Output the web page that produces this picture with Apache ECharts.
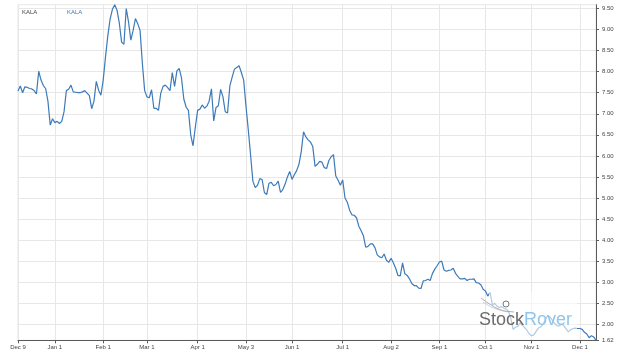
<!DOCTYPE html>
<html><head><meta charset="utf-8">
<script src="https://cdn.jsdelivr.net/npm/echarts@6/dist/echarts.min.js"></script>
<style>html,body{margin:0;padding:0;background:#fff}#c{width:624px;height:356px}</style>
</head><body><div id="c"></div>
<script>
const ticker = 'KALA';
// daily closes, Dec 9 -> Dec 8 (one per trading day)
const prices = [
7.54,7.66,7.50,7.64,7.63,7.60,7.59,7.55,7.47,8.01,
7.80,7.67,7.60,7.30,6.73,6.88,6.79,6.82,6.77,6.82,
7.05,7.55,7.58,7.68,7.52,7.51,7.50,7.50,7.52,7.55,
7.49,7.43,7.12,7.30,7.77,7.56,7.44,7.80,8.35,8.85,
9.25,9.48,9.59,9.46,9.15,8.70,8.65,9.50,9.18,8.75,
8.98,9.26,9.14,8.98,8.20,7.55,7.40,7.38,7.57,7.13,
7.13,7.08,7.49,7.65,7.68,7.62,7.55,7.98,7.65,8.02,
8.08,7.85,7.35,7.16,7.08,6.50,6.24,6.68,7.08,7.11,
7.21,7.13,7.18,7.30,7.59,6.83,7.15,7.19,7.58,7.40,
7.05,7.02,7.66,7.87,8.06,8.10,8.14,7.98,7.80,7.18,
6.62,6.02,5.40,5.25,5.30,5.46,5.44,5.13,5.08,5.35,
5.37,5.29,5.32,5.40,5.13,5.20,5.33,5.50,5.63,5.44,
5.55,5.65,5.80,6.10,6.57,6.45,6.38,6.33,6.22,5.75,
5.80,5.87,5.85,5.72,5.70,5.89,5.98,6.03,5.52,5.42,
5.30,5.43,5.00,4.90,4.71,4.60,4.59,4.53,4.33,4.22,
4.10,3.83,3.85,3.91,3.91,3.82,3.65,3.60,3.58,3.67,
3.52,3.47,3.57,3.46,3.33,3.16,3.15,3.46,3.20,3.16,
3.08,2.97,2.92,2.92,2.86,2.85,3.03,3.04,3.07,3.04,
3.21,3.31,3.39,3.48,3.50,3.29,3.26,3.28,3.29,3.33,
3.21,3.14,3.08,3.08,3.09,3.04,3.07,3.07,3.08,2.99,
2.98,2.94,2.83,2.79,2.67,2.76,2.46,2.50,2.43,2.40,
2.42,2.38,2.36,2.31,2.15,1.88,1.93,1.95,2.03,1.98,
1.92,1.86,1.77,1.73,1.75,1.83,1.91,1.94,2.00,2.11,
2.21,2.18,2.10,2.02,1.97,1.96,2.00,1.97,1.89,1.82,
1.87,1.90,1.91,1.90,1.90,1.88,1.81,1.77,1.68,1.73,
1.70,1.62
];
const tickIndex = [0,16,37,56,78,99,119,141,162,183,203,223,244];
const tickText = ['Dec 9','Jan 1','Feb 1','Mar 1','Apr 1','May 3','Jun 1','Jul 1','Aug 2','Sep 1','Oct 1','Nov 1','Dec 1'];
const yTicks = [1.62,2.00,2.50,3.00,3.50,4.00,4.50,5.00,5.50,6.00,6.50,7.00,7.50,8.00,8.50,9.00,9.50];
const yMin = 1.62, yMax = 9.59;

const days = prices.map((_, i) => String(i));
const labelAt = {};
tickIndex.forEach((k, j) => { labelAt[k] = tickText[j]; });
const isTick = (idx) => labelAt[idx] !== undefined;

const chart = echarts.init(document.getElementById('c'), null, {renderer: 'canvas'});
const axisGray = '#5a5a5a', gridGray = '#e7e7e7', lineBlue = '#3d7ab8';
chart.setOption({
  animation: false,
  backgroundColor: '#fff',
  title: {text: ticker, left: 22, top: 9, padding: 0,
    textStyle: {fontSize: 6, fontWeight: 'normal', color: '#444', fontFamily: 'Liberation Sans'}},
  legend: {data: [ticker], left: 62, top: 8, padding: 0, icon: 'none', itemWidth: 0, itemHeight: 8,
    textStyle: {fontSize: 6, color: lineBlue, fontFamily: 'Liberation Sans'}},
  grid: {left: 18, right: 28, top: 4.7, bottom: 15.7, containLabel: false, outerBoundsMode: 'none',
    show: true, borderColor: gridGray, borderWidth: 1, backgroundColor: 'transparent'},
  xAxis: {
    type: 'category', data: days, boundaryGap: false,
    axisLine: {lineStyle: {color: axisGray, width: 1}},
    axisTick: {show: true, interval: (i) => isTick(i), length: 3, lineStyle: {color: axisGray}},
    axisLabel: {interval: (i) => isTick(i), formatter: (v) => labelAt[+v] || '', hideOverlap: false,
      fontSize: 6, color: '#444', margin: 4, fontFamily: 'Liberation Sans'},
    splitLine: {show: true, interval: (i) => isTick(i), lineStyle: {color: gridGray, width: 1}}
  },
  yAxis: {
    type: 'value', position: 'right', min: yMin, max: yMax, scale: true,
    axisLine: {show: true, lineStyle: {color: axisGray, width: 1}},
    axisTick: {show: true, length: 3, customValues: yTicks, lineStyle: {color: axisGray}},
    axisLabel: {customValues: yTicks, formatter: (v) => v.toFixed(2), fontSize: 6, color: '#444',
      margin: 6, fontFamily: 'Liberation Sans'},
    splitLine: {show: true, lineStyle: {color: gridGray, width: 1}}
  },
  series: [{
    name: ticker, type: 'line', data: prices, showSymbol: false, symbol: 'none',
    lineStyle: {color: lineBlue, width: 1.2}, itemStyle: {color: lineBlue}, z: 3
  }],
  graphic: [
    {type: 'rect', z: 100, silent: true, shape: {x: 489, y: 292, width: 88, height: 47},
      style: {fill: 'rgba(255,255,255,0.6)'}},
    {type: 'polyline', z: 101, silent: true, shape: {points: [[481,298],[488,303],[496,308],[504,311],[514,312]]},
      style: {stroke: '#9a9a9a', lineWidth: 0.8, fill: null}},
    {type: 'polyline', z: 101, silent: true, shape: {points: [[483,302],[491,307],[499,310],[508,312]]},
      style: {stroke: '#b5b5b5', lineWidth: 0.6, fill: null}},
    {type: 'circle', z: 101, silent: true, shape: {cx: 506, cy: 304, r: 3},
      style: {stroke: '#555', lineWidth: 0.8, fill: '#fff'}},
    {type: 'text', z: 102, silent: true, left: 479, top: 311,
      style: {text: 'Stock', fontSize: 18, fontFamily: 'Liberation Sans', fill: '#6b6b6b'}},
    {type: 'text', z: 102, silent: true, left: 524, top: 311,
      style: {text: 'Rover', fontSize: 18, fontFamily: 'Liberation Sans', fill: '#8fc6ec'}}
  ]
});
</script>
</body></html>
